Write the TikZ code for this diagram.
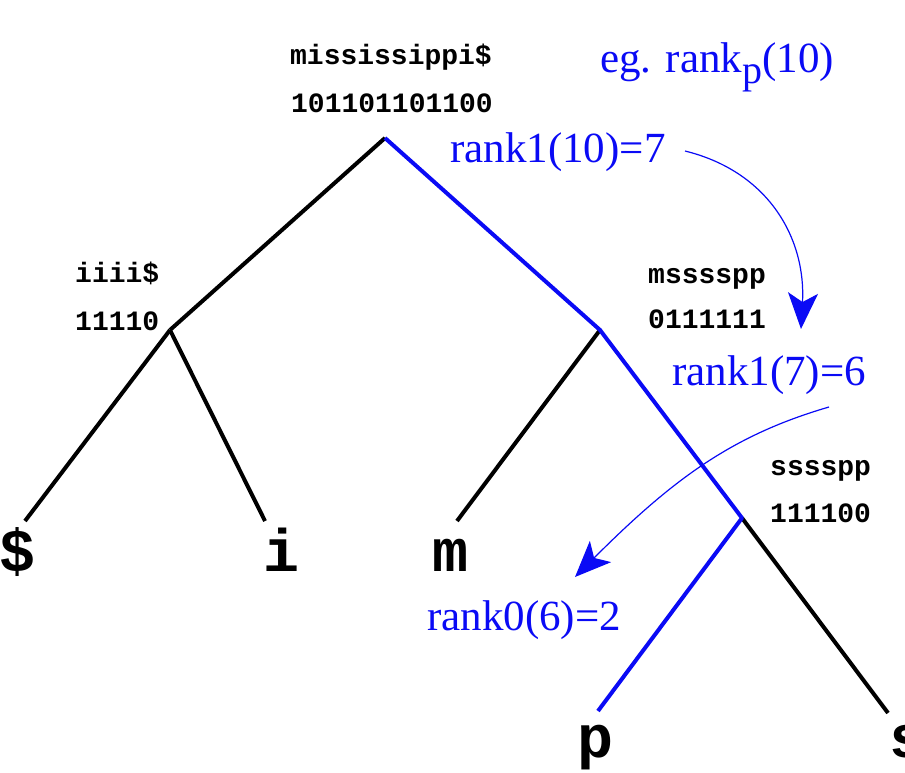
\documentclass[tikz,border=0pt]{standalone}
\usepackage{fontspec}
\setmainfont{Liberation Serif}
\setmonofont{Liberation Mono}
\usetikzlibrary{arrows.meta}
\definecolor{rankblue}{RGB}{10,10,245}
\begin{document}
\begin{tikzpicture}[x=1pt,y=-1pt,
  edge/.style={line width=4pt,black},
  path/.style={line width=4pt,rankblue},
  bits/.style={font=\ttfamily\bfseries\fontsize{28}{28}\selectfont,inner sep=0pt},
  leaf/.style={font=\ttfamily\bfseries\fontsize{60}{60}\selectfont,inner sep=0pt,anchor=base},
  ann/.style={font=\fontsize{43}{43}\selectfont,text=rankblue,inner sep=0pt,anchor=base west},
  curv/.style={rankblue,line width=1.2pt,-{Stealth[length=36pt,width=30pt,inset=9pt]}}]
\useasboundingbox (0,0) rectangle (905,773);
% tree nodes
\coordinate (r) at (385,138);
\coordinate (l) at (170,330);
\coordinate (rr) at (600,330);
\coordinate (rrr) at (742,518);
\coordinate (ld) at (25,521);
\coordinate (li) at (265,521);
\coordinate (lm) at (457,521);
\coordinate (lp) at (598,711);
\coordinate (ls) at (888,713);
% edges
\draw[edge] (r) -- (l);
\draw[edge] (l) -- (ld);
\draw[edge] (l) -- (li);
\draw[edge] (rr) -- (lm);
\draw[edge] (rrr) -- (ls);
\draw[path,line join=round] (r) -- (rr) -- (rrr) -- (lp);
% bit-vector labels
\node[bits,anchor=base] (t0) at (391,65) {mississippi\$};
\node[bits,anchor=base] (b0) at (392,113) {101101101100};
\node[bits,anchor=base west] (t1) at (75,282) {iiii\$};
\node[bits,anchor=base west] (b1) at (75,330) {11110};
\node[bits,anchor=base west] (t2) at (648,283) {msssspp};
\node[bits,anchor=base west] (b2) at (648,328) {0111111};
\node[bits,anchor=base west] (t3) at (770,475) {sssspp};
\node[bits,anchor=base west] (b3) at (770,522) {111100};
% leaves
\node[leaf] (nd) at (18,571) {\$};
\node[leaf] (ni) at (282,571) {i};
\node[leaf] (nm) at (450,571) {m};
\node[leaf] (np) at (595,757) {p};
\node[leaf] (ns) at (907,757) {s};
% annotations
\node[ann] (eg) at (600,73) {eg. rank\raisebox{-0.25em}{\fontsize{40}{40}\selectfont p}(10)};
\node[ann] (a1) at (450,163) {rank1(10)=7};
\node[ann] (a2) at (672,385) {rank1(7)=6};
\node[ann] (a3) at (427,630) {rank0(6)=2};
% curved arrows
\coordinate (s1) at (685,151);
\coordinate (e1) at (801,329);
\coordinate (s2) at (829,407);
\coordinate (e2) at (575,577);
\draw[curv] (s1) .. controls (770,172) and (806,240) .. (e1);
\draw[curv] (s2) .. controls (733,435) and (674,478) .. (e2);
\end{tikzpicture}
\end{document}
